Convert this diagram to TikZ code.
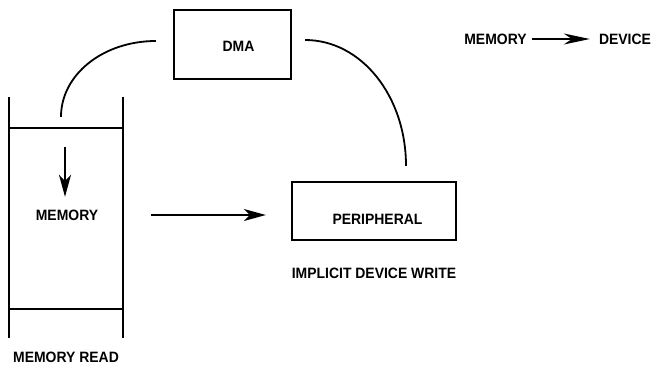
\documentclass[tikz,border=0pt]{standalone}
\usepackage{fontspec}
\setmainfont{Liberation Sans}[FakeStretch=0.93]
\usetikzlibrary{arrows.meta,calc}
\tikzset{
  >={Stealth[length=22pt, width=12pt, inset=6pt]},
  every node/.style={font=\fontsize{15}{17}\selectfont\bfseries},
  box/.style={draw, line width=2.3pt, inner sep=0pt},
  wall/.style={line width=2.3pt},
  link/.style={line width=1.8pt},
  flow/.style={->, line width=1.8pt},
  lab/.style={inner sep=0pt},
}

\begin{document}
\begin{tikzpicture}[x=1pt, y=-1pt]
\useasboundingbox (0,0) rectangle (655,368);

% ---------------------------------------------------------------- memory column
\node[inner sep=0pt, minimum width=114pt, minimum height=181pt,
  label={[lab, xshift=1pt, yshift=3pt]center:MEMORY}] (mem) at (66,218.5) {};
\draw[wall] ([yshift=31pt]mem.north west) -- ([yshift=-29pt]mem.south west);
\draw[wall] ([yshift=31pt]mem.north east) -- ([yshift=-29pt]mem.south east);
\draw[wall] (mem.north west) -- (mem.north east);
\draw[wall] (mem.south west) -- (mem.south east);
\draw[flow] ([xshift=-1pt,yshift=-19pt]mem.north) -- ([xshift=-1pt,yshift=-69pt]mem.north);
\node[lab, anchor=west] (memrd) at (13,357) {MEMORY READ};

% ---------------------------------------------------------------- dma and device
\node[box, minimum width=117pt, minimum height=69pt,
  label={[lab, xshift=6pt, yshift=-1.5pt]center:DMA}] (dma) at (232.5,44.5) {};
\node[box, minimum width=164pt, minimum height=58pt,
  label={[lab, xshift=3.5pt, yshift=-8.5pt]center:PERIPHERAL}] (per) at (374,211) {};
\node[lab] (perwr) at (374,273.5) {IMPLICIT DEVICE WRITE};

\coordinate (l0) at ([xshift=-5pt,yshift=11pt]mem.north);
\coordinate (l1) at ([xshift=-17pt,yshift=3.5pt]dma.west);
\coordinate (r0) at ([xshift=13pt,yshift=4.5pt]dma.east);
\coordinate (r1) at ([xshift=32pt,yshift=15pt]per.north);
\draw[link] (l0) .. controls ($(l0)+(0,-42)$) and ($(l1)+(-53,0)$) .. (l1);
\draw[link] (r0) .. controls ($(r0)+(56,0)$) and ($(r1)+(0,-70)$) .. (r1);

\draw[flow, shorten <=28pt, shorten >=25pt] ([yshift=3.5pt]mem.east) -- ([yshift=3.5pt]mem.east -| per.west);

% ---------------------------------------------------------------- legend
\node[lab] (lmem) at (495.5,39) {MEMORY};
\node[lab] (ldev) at (625,39) {DEVICE};
\draw[->, >={Stealth[length=26pt, width=11pt, inset=8pt]}, line width=1.8pt,
  shorten <=5pt, shorten >=9pt] (lmem) -- (ldev);

\end{tikzpicture}
\end{document}
